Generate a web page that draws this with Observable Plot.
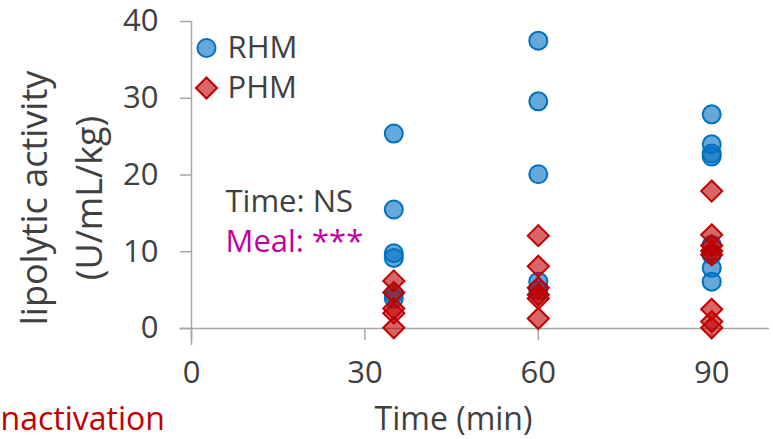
<!DOCTYPE html>
<html><head><meta charset="utf-8">
<script src="https://cdn.jsdelivr.net/npm/d3@7"></script>
<script src="https://cdn.jsdelivr.net/npm/@observablehq/plot@0.6"></script>
<style>
html,body{margin:0;padding:0;background:#fff;overflow:hidden;width:773px;height:439px}
</style></head><body><div id="chart"></div>
<script>
// Data
const times = [35, 60, 90];
const rhm35 = [25.4, 15.5, 9.8, 9.2, 4.5, 3.9];
const rhm60 = [37.5, 29.6, 20.1, 6.1, 5.0];
const rhm90 = [27.9, 24.0, 22.8, 22.4, 10.9, 9.6, 7.9, 6.1];
const phm35 = [6.2, 4.7, 2.6, 2.0, 0.1];
const phm60 = [12.1, 8.1, 5.3, 4.4, 3.9, 1.3];
const phm90 = [17.9, 12.2, 10.8, 10.1, 9.6, 2.5, 0.9, 0.1];
const xTicks = [0, 30, 60, 90];
const yTicks = [0, 10, 20, 30, 40];
const seriesNames = ["RHM", "PHM"];
const statLines = ["Time: NS", "Meal: ***"];

const rhm = [rhm35, rhm60, rhm90].flatMap((vals, i) => vals.map(v => ({time: times[i], value: v})));
const phm = [phm35, phm60, phm90].flatMap((vals, i) => vals.map(v => ({time: times[i], value: v})));

const axisGray = "#a6a6a6";
const textGray = "#404040";
const blue = "#0070c0";
const red = "#c00000";

const chart = Plot.plot({
  width: 773,
  height: 439,
  marginLeft: 191,
  marginRight: 4,
  marginTop: 21,
  marginBottom: 111,
  style: {fontFamily: "'Open Sans', sans-serif", color: textGray, background: "#fff", overflow: "visible"},
  x: {domain: [0, 100]},
  y: {domain: [0, 40]},
  marks: [
    Plot.ruleY([0], {x1: -2, x2: 100, stroke: axisGray, strokeWidth: 1.5}),
    Plot.ruleX([0], {y1: -2.2, y2: 40, stroke: axisGray, strokeWidth: 1.5}),
    Plot.axisY({ticks: yTicks, tickSize: 11, tickPadding: 22, fontSize: 31, stroke: axisGray, strokeWidth: 1.5, label: null}),
    Plot.axisX({ticks: xTicks, tickSize: 12, tickPadding: 20, fontSize: 31, stroke: axisGray, strokeWidth: 1.5, label: null}),
    Plot.dot(rhm, {x: "time", y: "value", symbol: "circle", r: 9, fill: blue, fillOpacity: 0.6, stroke: blue, strokeWidth: 2}),
    Plot.dot(phm, {x: "time", y: "value", symbol: "diamond2", r: 9.5, fill: red, fillOpacity: 0.6, stroke: red, strokeWidth: 2}),
    // legend
    Plot.dot([seriesNames[0]], {frameAnchor: "top-left", dx: 15, dy: 26.5, symbol: "circle", r: 9, fill: blue, fillOpacity: 0.6, stroke: blue, strokeWidth: 2}),
    Plot.dot([seriesNames[1]], {frameAnchor: "top-left", dx: 15, dy: 66.5, symbol: "diamond2", r: 9.5, fill: red, fillOpacity: 0.6, stroke: red, strokeWidth: 2}),
    Plot.text([seriesNames[0]], {frameAnchor: "top-left", text: d => d, dx: 36, dy: 27, textAnchor: "start", lineAnchor: "middle", fontSize: 31, fill: textGray}),
    Plot.text([seriesNames[1]], {frameAnchor: "top-left", text: d => d, dx: 36, dy: 67, textAnchor: "start", lineAnchor: "middle", fontSize: 31, fill: textGray}),
    // statistics annotation
    Plot.text([statLines[0]], {frameAnchor: "top-left", text: d => d, dx: 34, dy: 181, textAnchor: "start", lineAnchor: "middle", fontSize: 31, fill: textGray}),
    Plot.text([statLines[1]], {frameAnchor: "top-left", text: d => d, dx: 34, dy: 221, textAnchor: "start", lineAnchor: "middle", fontSize: 31, fill: "#c000a0"}),
    // axis titles
    Plot.text(["lipolytic activity"], {frameAnchor: "left", text: d => d, rotate: -90, dx: -156, dy: 23, textAnchor: "middle", lineAnchor: "middle", fontSize: 36, fill: textGray}),
    Plot.text(["(U/mL/kg)"], {frameAnchor: "left", text: d => d, rotate: -90, dx: -101, dy: 23, textAnchor: "middle", lineAnchor: "middle", fontSize: 36, fill: textGray}),
    Plot.text(["Time (min)"], {frameAnchor: "bottom", text: d => d, dx: -27, dy: 91, textAnchor: "middle", lineAnchor: "middle", fontSize: 32, fill: textGray}),
    Plot.text(["nactivation"], {frameAnchor: "bottom-left", text: d => d, dx: -191, dy: 91, textAnchor: "start", lineAnchor: "middle", fontSize: 32, fill: red})
  ]
});
document.getElementById("chart").appendChild(chart);
</script>
</body></html>
